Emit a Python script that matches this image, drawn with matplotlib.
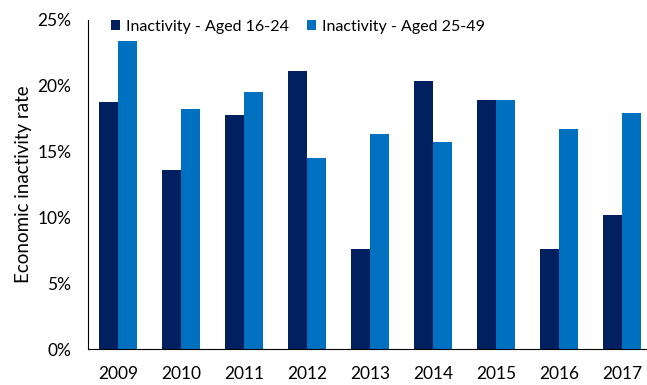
import matplotlib.pyplot as plt
import numpy as np

years = ['2009', '2010', '2011', '2012', '2013', '2014', '2015', '2016', '2017']
aged_16_24 = [18.8, 13.6, 17.8, 21.1, 7.6, 20.4, 18.9, 7.6, 10.2]
aged_25_49 = [23.4, 18.2, 19.5, 14.5, 16.3, 15.7, 18.9, 16.7, 17.9]

plt.rcParams['font.family'] = ['Lato', 'DejaVu Sans']

fig = plt.figure(figsize=(6.47, 3.85), dpi=100)
ax = fig.add_axes([88/647, 36/385, 1 - 88/647, 329/385])

x = np.arange(len(years))
w = 0.3
ax.bar(x - w/2, aged_16_24, w, color='#002060', label='Inactivity - Aged 16-24')
ax.bar(x + w/2, aged_25_49, w, color='#0070C0', label='Inactivity - Aged 25-49')

ax.set_ylim(0, 25)
ax.set_xlim(-0.476, 8.4)
ax.set_yticks([0, 5, 10, 15, 20, 25])
ax.set_yticklabels(['0%', '5%', '10%', '15%', '20%', '25%'], fontsize=12.5)
ax.set_xticks(x)
ax.set_xticklabels(years, fontsize=12.5)
ax.tick_params(length=0)
ax.tick_params(axis='x', pad=12)
ax.tick_params(axis='y', pad=12)
for s in ['top', 'right']:
    ax.spines[s].set_visible(False)
ax.spines['left'].set_color('black')
ax.spines['bottom'].set_color('black')
ax.set_ylabel('Economic inactivity rate', fontsize=13.5, labelpad=4)

ax.legend(loc='upper left', bbox_to_anchor=(0.015, 1.045), ncol=2, frameon=False,
          fontsize=11.5, handlelength=0.6, handleheight=0.6, handletextpad=0.35,
          columnspacing=1.1)

plt.savefig('out.png')
plt.close()
